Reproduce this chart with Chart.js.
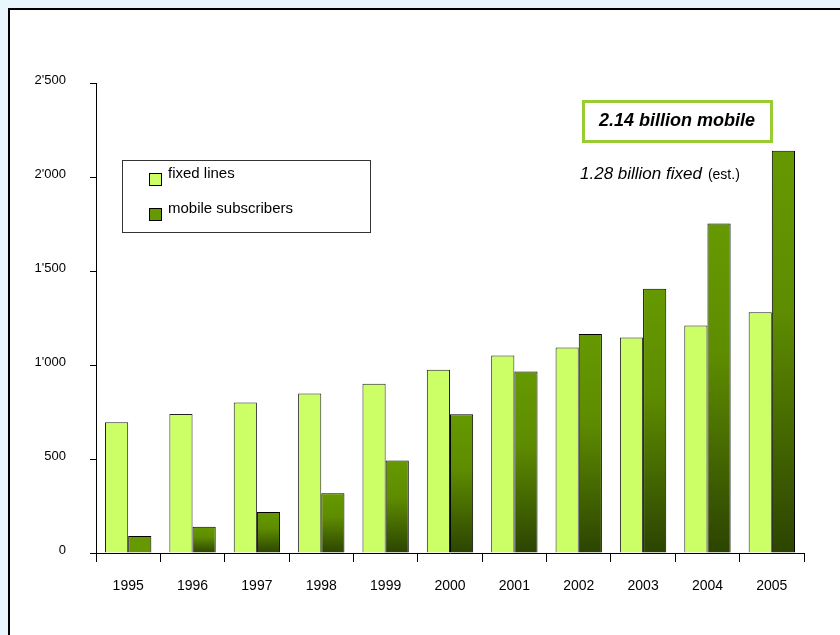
<!DOCTYPE html>
<html>
<head>
<meta charset="utf-8">
<script src="https://cdn.jsdelivr.net/npm/chart.js@4"></script>
<style>
  html, body { margin: 0; padding: 0; overflow: hidden; background: #eaf6fd; }
  .panel { position: absolute; left: 8px; top: 8px; width: 900px; height: 700px; background: #fff; border: 2px solid #000; }
  .wrap { position: absolute; left: 0; top: 0; width: 840px; height: 635px; }
</style>
</head>
<body>
<div class="panel"></div>
<div class="wrap"><canvas id="barChart"></canvas></div>
<script>
const years = ['1995', '1996', '1997', '1998', '1999', '2000', '2001', '2002', '2003', '2004', '2005'];
let fixedLines = [695, 740, 800, 848, 900, 975, 1050, 1093, 1146, 1210, 1280];
let mobileSubs = [91, 140, 218, 318, 492, 738, 965, 1165, 1405, 1752, 2140];
const seriesNames = ['fixed lines', 'mobile subscribers'];
const yTicks = [0, 500, 1000, 1500, 2000, 2500];

const FONT = '"Liberation Sans", Arial, sans-serif';

// darker towards the bottom of each mobile bar
function mobileFill(c) {
  const chart = c.chart;
  if (!chart.chartArea || c.type !== 'data' || !c.parsed) return '#669900';
  const y = chart.scales.y;
  const top = y.getPixelForValue(c.parsed.y);
  const bottom = y.getPixelForValue(0);
  if (bottom - top < 20) return '#669900';
  const g = chart.ctx.createLinearGradient(0, top, 0, bottom);
  g.addColorStop(0, '#669900');
  g.addColorStop(0.4, '#5e8c00');
  g.addColorStop(1, '#2c4400');
  return g;
}

// legend box + the two notes
const notes = {
  id: 'notes',
  afterDraw(chart) {
    const ctx = chart.ctx;
    ctx.save();
    // legend
    ctx.fillStyle = '#fff';
    ctx.fillRect(122, 160, 248, 73);
    ctx.strokeStyle = '#333';
    ctx.lineWidth = 1;
    ctx.strokeRect(122.5, 160.5, 248, 72);
    const colors = ['#ccff66', '#669900'];
    const rowY = [179, 214];
    ctx.font = '15px ' + FONT;
    ctx.textBaseline = 'middle';
    for (let i = 0; i < 2; i++) {
      ctx.fillStyle = colors[i];
      ctx.fillRect(149, rowY[i] - 6, 13, 13);
      ctx.strokeStyle = '#000';
      ctx.strokeRect(149.5, rowY[i] - 5.5, 12, 12);
      ctx.fillStyle = '#000';
      ctx.fillText(seriesNames[i], 168, rowY[i] - 5);
    }
    // mobile note
    ctx.strokeStyle = '#99cc33';
    ctx.lineWidth = 3;
    ctx.strokeRect(583.5, 101.5, 188, 40);
    ctx.fillStyle = '#000';
    ctx.font = 'italic bold 18px ' + FONT;
    ctx.textAlign = 'center';
    ctx.fillText('2.14 billion mobile', 677, 121);
    // fixed note
    ctx.textAlign = 'left';
    ctx.font = 'italic 17px ' + FONT;
    ctx.fillText('1.28 billion fixed', 580, 174);
    const w = ctx.measureText('1.28 billion fixed').width;
    ctx.font = '14px ' + FONT;
    ctx.fillText('(est.)', 580 + w + 6, 175);
    ctx.restore();
  }
};

const barChart = new Chart(
  document.getElementById('barChart'),
  {
    type: 'bar',
    data: {
      labels: years,
      datasets: [
        {
          label: seriesNames[0],
          data: fixedLines,
          backgroundColor: '#ccff66',
          borderColor: '#222',
          borderWidth: 1,
          barPercentage: 1,
          categoryPercentage: 0.72
        },
        {
          label: seriesNames[1],
          data: mobileSubs,
          backgroundColor: mobileFill,
          borderColor: '#000',
          borderWidth: 1,
          barPercentage: 1,
          categoryPercentage: 0.72
        }
      ]
    },
    options: {
      responsive: true,
      maintainAspectRatio: false,
      animation: false,
      layout: { padding: { top: 83, right: 36, left: 0, bottom: 22 } },
      plugins: {
        legend: { display: false },
        tooltip: { enabled: false }
      },
      scales: {
        x: {
          afterFit(s) { s.height = 60; },
          grid: { drawOnChartArea: false, color: '#000', tickLength: 9, offset: true },
          border: { color: '#000', width: 1 },
          ticks: { color: '#000', font: { family: FONT, size: 14 }, padding: 16, maxRotation: 0 }
        },
        y: {
          min: 0,
          max: 2500,
          afterFit(s) { s.width = 96; },
          afterBuildTicks(s) { s.ticks = yTicks.map(v => ({ value: v })); },
          grid: { drawOnChartArea: false, color: '#000', tickLength: 6 },
          border: { color: '#000', width: 1 },
          ticks: {
            color: '#000',
            font: { family: FONT, size: 13 },
            padding: 24,
            labelOffset: -3,
            callback: v => String(v).replace(/\B(?=(\d{3})+(?!\d))/g, "'")
          }
        }
      }
    },
    plugins: [notes]
  }
);
</script>
</body>
</html>
